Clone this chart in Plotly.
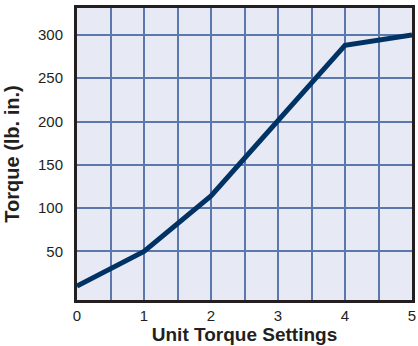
import plotly.graph_objects as go

settings = [0, 1, 2, 3, 4, 5]
torque = [10, 50, 114, 200, 288, 300]
y_ticks = [50, 100, 150, 200, 250, 300]
x_ticks = [0, 1, 2, 3, 4, 5]

fig = go.Figure()
fig.add_trace(go.Scatter(x=settings, y=torque, mode="lines",
                         line=dict(color="#003263", width=5), hoverinfo="skip"))

fig.update_layout(
    width=418, height=346,
    margin=dict(l=77, r=6, t=8, b=46),
    paper_bgcolor="white", plot_bgcolor="#e7eaf4",
    showlegend=False,
    font=dict(family="Liberation Sans, Arial, sans-serif", color="#231f20", size=15),
)
fig.update_xaxes(
    range=[0, 5], tickvals=x_ticks, ticktext=[str(v) for v in x_ticks],
    showgrid=True, gridcolor="#5a78ab", gridwidth=1.5,
    minor=dict(dtick=0.5, showgrid=True, gridcolor="#5a78ab", gridwidth=1.5),
    showline=True, linecolor="#231f20", linewidth=3, mirror=True,
    zeroline=False, ticks="", ticklabelstandoff=0, automargin=False,
    title=dict(text="<b>Unit Torque Settings</b>", font=dict(size=19), standoff=5),
)
fig.update_yaxes(
    range=[-6, 331], tickvals=y_ticks, ticktext=[str(v) for v in y_ticks],
    showgrid=True, gridcolor="#5a78ab", gridwidth=1.5,
    showline=True, linecolor="#231f20", linewidth=3, mirror=True,
    zeroline=False, ticks="", ticklabelstandoff=8, automargin=False,
    title=dict(text="<b>Torque (lb. in.)</b>", font=dict(size=20), standoff=13),
)
fig.write_html("out.html", config={"displayModeBar": False},
               post_script="document.body.style.margin='0';document.body.style.overflow='hidden';")
